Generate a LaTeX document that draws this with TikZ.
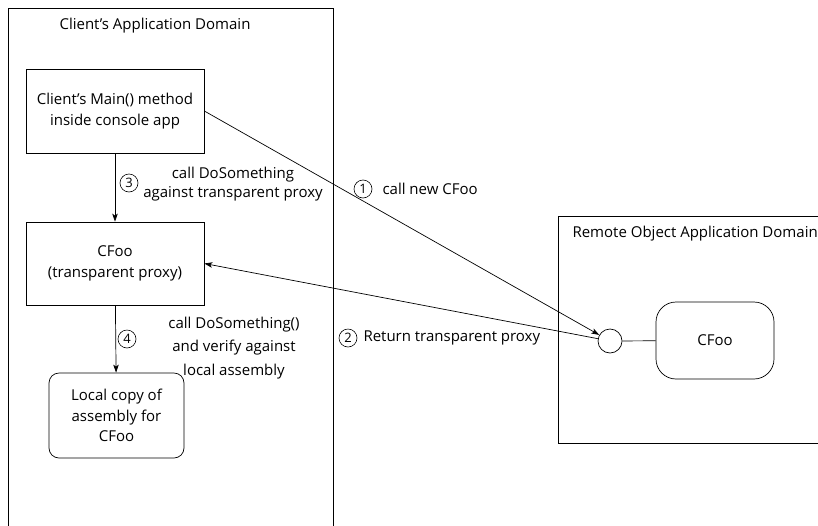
\documentclass[tikz,border=0pt]{standalone}
\usepackage{fontspec}
\setmainfont{Open Sans}
\usetikzlibrary{arrows.meta, positioning}

\begin{document}
\begin{tikzpicture}[x=1pt, y=-1pt,
  box/.style={rectangle, draw, line width=0.7pt, align=center,
              font=\fontsize{15}{20.5}\selectfont},
  appdomain/.style={draw, line width=0.7pt},
  domtitle/.style={font=\fontsize{15}{18}\selectfont},
  lbl/.style={align=center, font=\fontsize{15}{19.5}\selectfont},
  num/.style={circle, draw, line width=0.6pt, inner sep=0pt, minimum size=18pt,
              font=\fontsize{13}{14}\selectfont},
  flow/.style={-{Stealth[length=8pt, width=5.5pt, inset=2pt]}, line width=0.7pt}
]
  \useasboundingbox (0,0) rectangle (818,525);
  \clip (0,0) rectangle (818,525);

  % application domains
  \draw[appdomain] (8,535) -- (8,8) -- (333,8) -- (333,535);
  \draw[appdomain] (830,216) -- (558,216) -- (558,443) -- (830,443);
  \node[domtitle] (clienttitle) at (155,26) {Client's Application Domain};
  \node[domtitle, anchor=west] (remotetitle) at (569,234) {Remote Object Application Domain};

  % client side
  \node[box, minimum width=178pt, minimum height=84pt] (main) at (115,111)
    {Client's Main() method\\inside console app};
  \node[box, minimum width=178pt, minimum height=83pt] (proxy) at (115,263.5)
    {CFoo\\(transparent proxy)};
  \node[box, rounded corners=10pt, minimum width=135pt, minimum height=85pt] (local) at (116.5,415.5)
    {Local copy of\\assembly for\\CFoo};

  % remote side
  \node[circle, draw, line width=0.7pt, minimum size=24pt, inner sep=0pt] (port) at (610,341) {};
  \node[box, rounded corners=20pt, minimum width=118pt, minimum height=77pt] (remote) at (715,340.5) {CFoo};

  \draw[flow] (main) -- (proxy);
  \draw[flow] (proxy) -- (local);
  \draw[flow] (main.east) -- (port);
  \draw[flow] (port) -- (proxy.east);
  \draw[line width=0.7pt] (port) -- (remote);

  % step labels
  \node[num] (n3) at (129,183) {3};
  \node[lbl] (l3) at (233,184) {call DoSomething\\against transparent proxy};
  \node[num] (n4) at (127,339) {4};
  \node[lbl, font=\fontsize{15}{23.5}\selectfont] (l4) at (234,348) {call DoSomething()\\and verify against\\local assembly};
  \node[num] (n1) at (363,189) {1};
  \node[lbl, anchor=west] (l1) at (379,189) {call new CFoo};
  \node[num] (n2) at (348,338) {2};
  \node[lbl, anchor=west] (l2) at (360,338) {Return transparent proxy};
\end{tikzpicture}
\end{document}
